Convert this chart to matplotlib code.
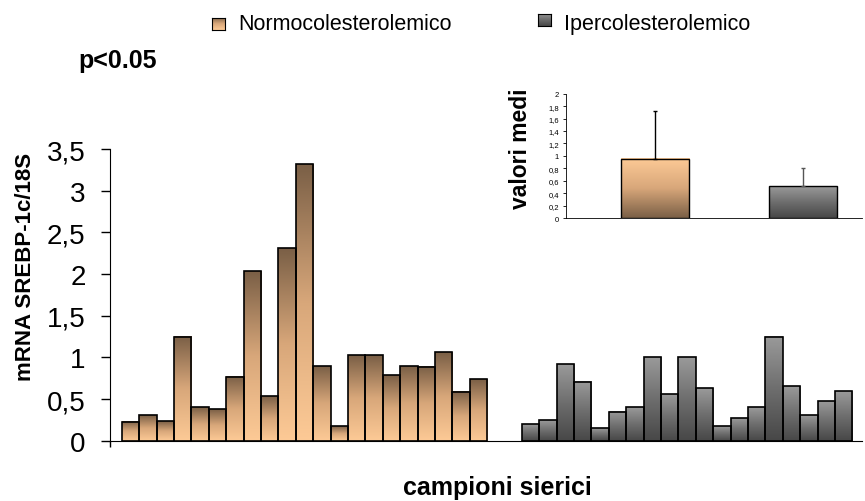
import matplotlib.pyplot as plt
import numpy as np
from matplotlib.colors import LinearSegmentedColormap
from matplotlib.ticker import FuncFormatter

plt.rcParams['font.family'] = ['Liberation Sans', 'DejaVu Sans']

# data
normo = [0.23, 0.31, 0.24, 1.25, 0.40, 0.38, 0.77, 2.04, 0.54, 2.31, 3.32,
         0.90, 0.18, 1.03, 1.03, 0.79, 0.90, 0.89, 1.06, 0.59, 0.74]
iper = [0.20, 0.25, 0.92, 0.71, 0.15, 0.35, 0.40, 1.00, 0.56, 1.00, 0.63,
        0.18, 0.27, 0.40, 1.25, 0.66, 0.31, 0.48, 0.60]
groups = ["Normocolesterolemico", "Ipercolesterolemico"]
means = [0.95, 0.51]
errors = [0.77, 0.30]
main_ticks = [0, 0.5, 1, 1.5, 2, 2.5, 3, 3.5]
inset_ticks = [0, 0.2, 0.4, 0.6, 0.8, 1, 1.2, 1.4, 1.6, 1.8, 2]

brown_up = LinearSegmentedColormap.from_list("bu", ["#fdca96", "#d8a77a", "#7a5f46"])
brown_down = LinearSegmentedColormap.from_list("bd", ["#7a5f46", "#d8a77a", "#fdca96"])
grey_up = LinearSegmentedColormap.from_list("gu", ["#474747", "#6e6e6e", "#9a9a9a"])

grad = np.linspace(0, 1, 256).reshape(-1, 1)


def comma(v, pos):
    return ("%g" % v).replace(".", ",")


def gradient_bars(ax, bars, cmap):
    for b in bars:
        x0, y0 = b.get_x(), b.get_y()
        ax.imshow(grad, cmap=cmap, origin='lower', aspect='auto',
                  extent=(x0, x0 + b.get_width(), y0, y0 + b.get_height()),
                  zorder=1, interpolation='bilinear')


fig = plt.figure(figsize=(8.65, 5.02), dpi=100)

# main chart
ax = fig.add_axes([0.127, 0.120, 0.869, 0.581])
x1 = np.arange(len(normo))
x2 = np.arange(len(iper)) + len(normo) + 2
b1 = ax.bar(x1, normo, width=1, facecolor='none', edgecolor='black', linewidth=1.2, zorder=2)
b2 = ax.bar(x2, iper, width=1, facecolor='none', edgecolor='black', linewidth=1.2, zorder=2)
gradient_bars(ax, b1, brown_up)
gradient_bars(ax, b2, grey_up)
ax.set_xlim(-1.19, 42.03)
ax.set_ylim(0, 3.5)
ax.set_yticks(main_ticks)
ax.yaxis.set_major_formatter(FuncFormatter(comma))
ax.set_xticks([-1.19])
ax.set_xticklabels([])
ax.tick_params(axis='y', labelsize=20, length=6.5, width=1, pad=11)
ax.tick_params(axis='x', length=4, width=1)
for s in ['top', 'right']:
    ax.spines[s].set_visible(False)
fig.text(0.029, 0.469, "mRNA SREBP-1c/18S", rotation=90, fontsize=16,
         fontweight='bold', ha='center', va='center')
fig.text(0.575, 0.014, "campioni sierici", fontsize=18, fontweight='bold',
         ha='center', va='baseline')
fig.text(0.091, 0.8645, "p<0.05", fontsize=18, fontweight='bold', va='baseline')

# inset with means
ins = fig.add_axes([0.654, 0.5637, 0.343, 0.2476])
ib = ins.bar([0, 1], means, width=0.46, facecolor='none', edgecolor='black',
             linewidth=1, zorder=2)
gradient_bars(ins, [ib[0]], brown_down)
gradient_bars(ins, [ib[1]], grey_up)
for i, col in enumerate(['black', '#555555']):
    ins.errorbar([i], [means[i]], yerr=[[0], [errors[i]]], fmt='none', ecolor=col,
                 elinewidth=1, capsize=1.5, zorder=3)
ins.set_xlim(-0.6, 1.4)
ins.set_ylim(0, 2)
ins.set_yticks(inset_ticks)
ins.yaxis.set_major_formatter(FuncFormatter(comma))
ins.set_xticks([])
ins.tick_params(axis='y', labelsize=5.5, length=2, width=0.6, pad=3)
for s in ['top', 'right']:
    ins.spines[s].set_visible(False)
ins.spines['left'].set_linewidth(0.6)
ins.spines['bottom'].set_linewidth(0.6)
fig.text(0.602, 0.703, "valori medi", rotation=90, fontsize=16.5, fontweight='bold',
         ha='center', va='center')

# legend drawn by hand with gradient swatches
for gx, gy, name, cmap in [(0.245, 0.938, groups[0], brown_up),
                           (0.622, 0.946, groups[1], grey_up)]:
    sw = fig.add_axes([gx, gy, 0.015, 0.024])
    sw.imshow(grad, cmap=cmap, origin='lower', aspect='auto', interpolation='bilinear')
    sw.set_xticks([])
    sw.set_yticks([])
    for s in sw.spines.values():
        s.set_linewidth(0.8)
    fig.text(gx + 0.030, 0.952, name, fontsize=15.5, va='center')

fig.savefig("out.png", dpi=100)
